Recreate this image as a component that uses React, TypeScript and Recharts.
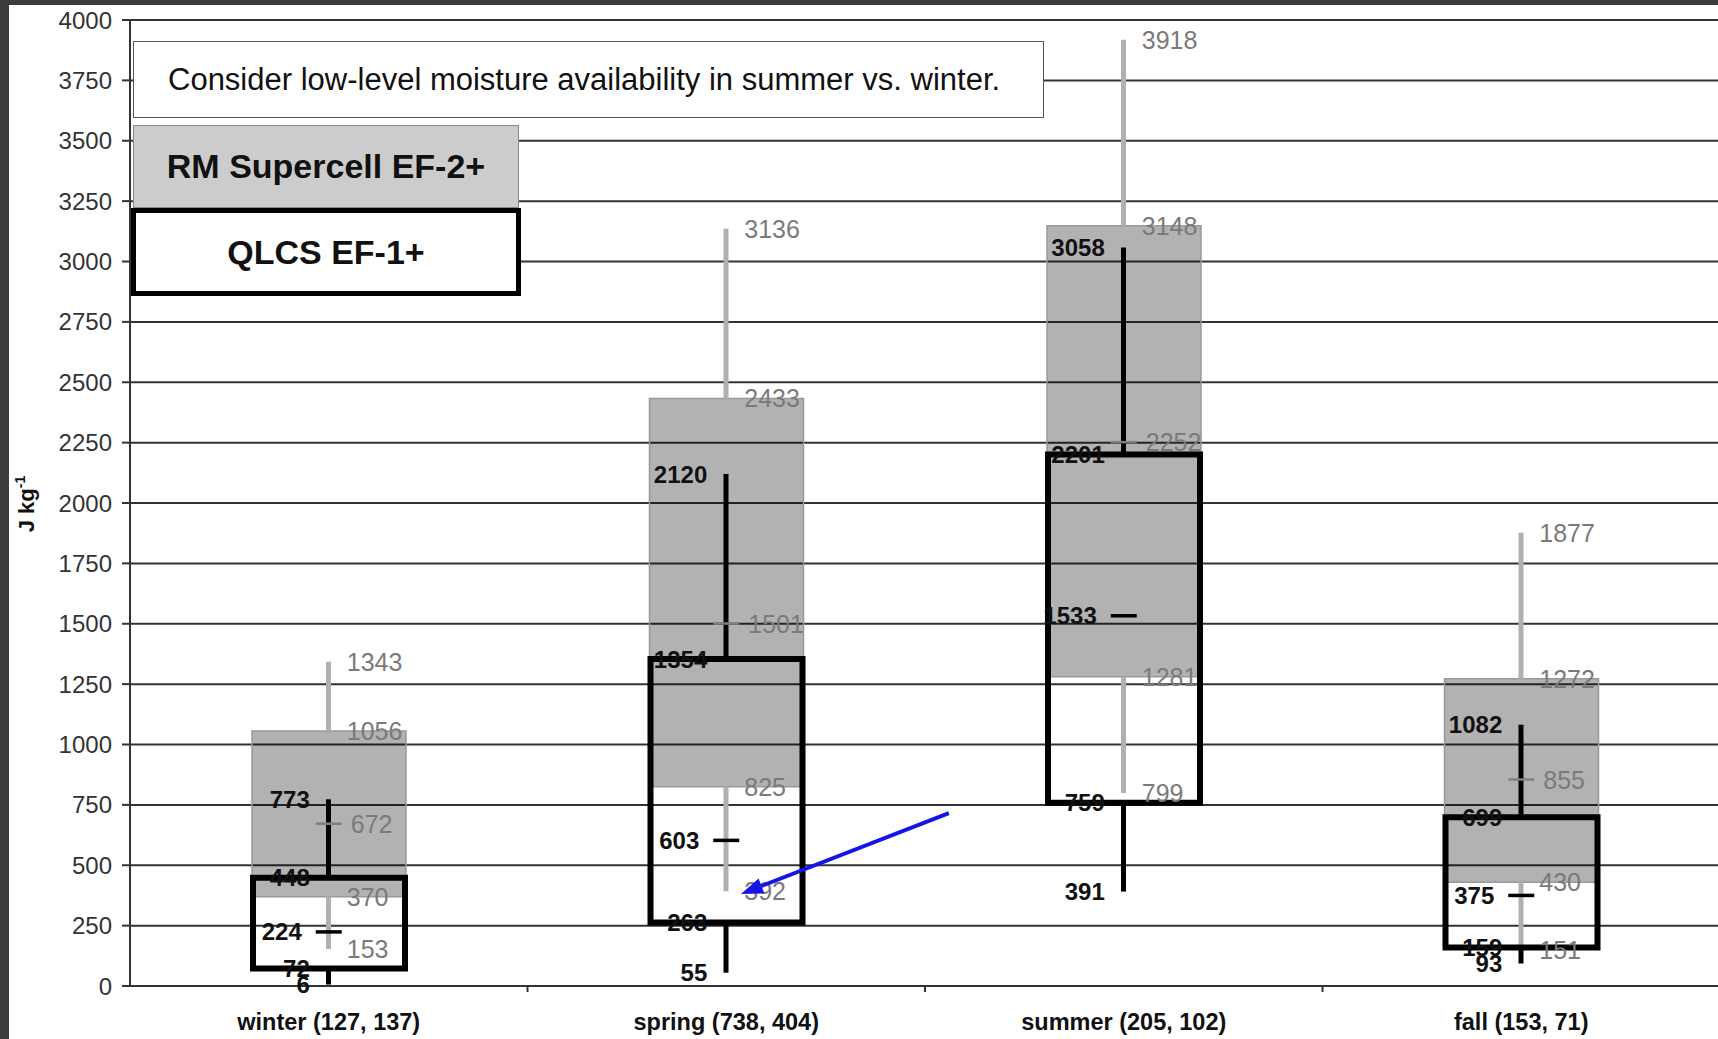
import React from "react";
import { ComposedChart, Bar, Line, XAxis, YAxis, CartesianGrid } from "recharts";

const seasons = ["winter (127, 137)", "spring (738, 404)", "summer (205, 102)", "fall (153, 71)"];

// RM supercell EF-2+ (gray boxes)
const rmMin = [153, 392, 799, 151];
const rmQ1 = [370, 825, 1281, 430];
const rmMed = [672, 1501, 2252, 855];
const rmQ3 = [1056, 2433, 3148, 1272];
const rmMax = [1343, 3136, 3918, 1877];

// QLCS EF-1+ (black outlined boxes)
const qMin = [6, 55, 391, 93];
const qQ1 = [72, 263, 759, 159];
const qMed = [224, 603, 1533, 375];
const qQ3 = [448, 1354, 2201, 699];
const qMax = [773, 2120, 3058, 1082];

const yTicks = [0, 250, 500, 750, 1000, 1250, 1500, 1750, 2000, 2250, 2500, 2750, 3000, 3250, 3500, 3750, 4000];

const data = seasons.map((name, i) => ({
  name,
  rmMin: rmMin[i],
  rmQ1: rmQ1[i],
  rmMed: rmMed[i],
  rmQ3: rmQ3[i],
  rmMax: rmMax[i],
  qMin: qMin[i],
  qQ1: qQ1[i],
  qMed: qMed[i],
  qQ3: qQ3[i],
  qMax: qMax[i],
}));

const W = 1730;
const H = 1039;
const PLOT_LEFT = 130;
const PLOT_RIGHT = 1720;
const PLOT_TOP = 20;
const PLOT_BOTTOM = 986;
const BAND = (PLOT_RIGHT - PLOT_LEFT) / seasons.length;

const yPx = (v: number) => PLOT_BOTTOM - (v / 4000) * (PLOT_BOTTOM - PLOT_TOP);
const xPx = (cat: number) => PLOT_LEFT + (cat + 0.5) * BAND;

const SANS = "'Liberation Sans', Arial, sans-serif";
const GRAY_TEXT = "#7a7a7a";

const grayLabel = (dx: number) => (p: any) => (
  <text key={p.index} x={p.cx + dx} y={p.cy} dominantBaseline="central" fill={GRAY_TEXT} fontSize={25} fontFamily={SANS}>
    {p.value}
  </text>
);

const blackLabel = (dx: number) => (p: any) => (
  <text key={p.index} x={p.cx - dx} y={p.cy} dominantBaseline="central" textAnchor="end" fill="#111" fontSize={24} fontWeight="bold" fontFamily={SANS}>
    {p.value}
  </text>
);

const medianTick = (color: string, w: number) => (p: any) => (
  <line key={p.index} x1={p.cx - 13} x2={p.cx + 13} y1={p.cy} y2={p.cy} stroke={color} strokeWidth={w} />
);

const SeasonTick = (props: any) => {
  const { x, payload, index } = props;
  return (
    <g>
      <text x={x} y={PLOT_BOTTOM + 36} textAnchor="middle" dominantBaseline="central" fontSize={23.5} fontWeight="bold" fontFamily={SANS} fill="#111">
        {payload.value}
      </text>
      {index > 0 && <line x1={x - BAND / 2} x2={x - BAND / 2} y1={PLOT_BOTTOM} y2={PLOT_BOTTOM + 6} stroke="#333" strokeWidth={2} />}
    </g>
  );
};

// arrow annotation, from between spring and summer to the spring RM minimum
const arrowFrom = { x: xPx(1.56), y: yPx(716) };
const arrowTo = { x: xPx(1.037), y: yPx(381) };

function Arrow() {
  const dx = arrowTo.x - arrowFrom.x;
  const dy = arrowTo.y - arrowFrom.y;
  const len = Math.sqrt(dx * dx + dy * dy);
  const ux = dx / len;
  const uy = dy / len;
  const bx = arrowTo.x - ux * 22;
  const by = arrowTo.y - uy * 22;
  const px = -uy * 8;
  const py = ux * 8;
  return (
    <svg width={W} height={H} style={{ position: "absolute", left: 0, top: 0, pointerEvents: "none" }}>
      <line x1={arrowFrom.x} y1={arrowFrom.y} x2={bx} y2={by} stroke="#1515e6" strokeWidth={4} />
      <polygon points={`${arrowTo.x},${arrowTo.y} ${bx + px},${by + py} ${bx - px},${by - py}`} fill="#1515e6" />
    </svg>
  );
}

export default function App() {
  return (
    <div style={{ position: "absolute", left: 0, top: 0, width: 1718, height: H, overflow: "hidden", background: "#3c3c3c" }}>
      <div style={{ position: "absolute", left: 9, top: 5, right: 0, bottom: 0, background: "#fff" }} />
      <div style={{ position: "absolute", left: 0, top: 0 }}>
        <ComposedChart width={W} height={H} data={data} margin={{ top: 20, right: 10, bottom: 10, left: 60 }}>
          <CartesianGrid vertical={false} stroke="#333" strokeWidth={2} />
          <XAxis
            xAxisId="main"
            dataKey="name"
            height={43}
            tickSize={0}
            tickMargin={0}
            tick={<SeasonTick />}
            axisLine={{ stroke: "#333", strokeWidth: 2 }}
            interval={0}
          />
          <XAxis xAxisId="b1" dataKey="name" hide />
          <XAxis xAxisId="b2" dataKey="name" hide />
          <XAxis xAxisId="b3" dataKey="name" hide />
          <XAxis xAxisId="b4" dataKey="name" hide />
          <XAxis xAxisId="b5" dataKey="name" hide />
          <XAxis xAxisId="b6" dataKey="name" hide />
          <YAxis
            width={70}
            domain={[0, 4000]}
            ticks={yTicks}
            interval={0}
            tickSize={8}
            tickMargin={10}
            axisLine={{ stroke: "#333", strokeWidth: 2 }}
            tickLine={{ stroke: "#333", strokeWidth: 2 }}
            tick={{ fill: "#333", fontSize: 24, fontFamily: SANS }}
          />
          {/* RM supercell: gray box and whiskers */}
          <Bar xAxisId="b1" dataKey={(d: any) => [d.rmQ1, d.rmQ3]} barSize={154} fill="#000" fillOpacity={0.3} stroke="#999" strokeWidth={1.5} isAnimationActive={false} />
          <Bar xAxisId="b2" dataKey={(d: any) => [d.rmQ3, d.rmMax]} barSize={5} fill="#b0b0b0" isAnimationActive={false} />
          <Bar xAxisId="b3" dataKey={(d: any) => [d.rmMin, d.rmQ1]} barSize={5} fill="#b0b0b0" isAnimationActive={false} />
          {/* QLCS: black whiskers and outlined box */}
          <Bar xAxisId="b4" dataKey={(d: any) => [d.qQ3, d.qMax]} barSize={5} fill="#000" isAnimationActive={false} />
          <Bar xAxisId="b5" dataKey={(d: any) => [d.qMin, d.qQ1]} barSize={5} fill="#000" isAnimationActive={false} />
          <Bar xAxisId="b6" dataKey={(d: any) => [d.qQ1, d.qQ3]} barSize={152} fill="none" stroke="#000" strokeWidth={6} isAnimationActive={false} />
          {/* medians */}
          <Line xAxisId="main" dataKey="rmMed" stroke="none" dot={medianTick("#7f7f7f", 2.5)} activeDot={false} isAnimationActive={false} />
          <Line xAxisId="main" dataKey="qMed" stroke="none" dot={medianTick("#000", 3.5)} activeDot={false} isAnimationActive={false} />
          {/* RM labels, right of centre */}
          <Line xAxisId="main" dataKey="rmMax" stroke="none" dot={grayLabel(18)} activeDot={false} isAnimationActive={false} />
          <Line xAxisId="main" dataKey="rmQ3" stroke="none" dot={grayLabel(18)} activeDot={false} isAnimationActive={false} />
          <Line xAxisId="main" dataKey="rmMed" stroke="none" dot={grayLabel(22)} activeDot={false} isAnimationActive={false} />
          <Line xAxisId="main" dataKey="rmQ1" stroke="none" dot={grayLabel(18)} activeDot={false} isAnimationActive={false} />
          <Line xAxisId="main" dataKey="rmMin" stroke="none" dot={grayLabel(18)} activeDot={false} isAnimationActive={false} />
          {/* QLCS labels, left of centre */}
          <Line xAxisId="main" dataKey="qMax" stroke="none" dot={blackLabel(19)} activeDot={false} isAnimationActive={false} />
          <Line xAxisId="main" dataKey="qQ3" stroke="none" dot={blackLabel(19)} activeDot={false} isAnimationActive={false} />
          <Line xAxisId="main" dataKey="qMed" stroke="none" dot={blackLabel(27)} activeDot={false} isAnimationActive={false} />
          <Line xAxisId="main" dataKey="qQ1" stroke="none" dot={blackLabel(19)} activeDot={false} isAnimationActive={false} />
          <Line xAxisId="main" dataKey="qMin" stroke="none" dot={blackLabel(19)} activeDot={false} isAnimationActive={false} />
        </ComposedChart>
      </div>
      <Arrow />
      {/* y axis title */}
      <svg width={60} height={H} style={{ position: "absolute", left: 0, top: 0 }}>
        <text transform="translate(34,504) rotate(-90)" textAnchor="middle" fontSize={22} fontWeight="bold" fontFamily={SANS} fill="#111">
          J kg<tspan dy={-9} fontSize={14}>-1</tspan>
        </text>
      </svg>
      {/* note and legend boxes */}
      <div
        style={{
          position: "absolute", left: 133, top: 41, width: 911, height: 77, boxSizing: "border-box",
          border: "1.5px solid #555", background: "#fff", fontFamily: SANS, fontSize: 31,
          display: "flex", alignItems: "center", paddingLeft: 34, color: "#111", whiteSpace: "nowrap",
        }}
      >
        Consider low-level moisture availability in summer vs. winter.
      </div>
      <div
        style={{
          position: "absolute", left: 133, top: 125, width: 386, height: 83, boxSizing: "border-box",
          border: "1.5px solid #888", background: "#cccccc", fontFamily: SANS, fontSize: 34, fontWeight: "bold",
          display: "flex", alignItems: "center", justifyContent: "center", color: "#111", whiteSpace: "nowrap",
        }}
      >
        RM Supercell EF-2+
      </div>
      <div
        style={{
          position: "absolute", left: 131, top: 208, width: 390, height: 88, boxSizing: "border-box",
          border: "5px solid #000", background: "#fff", fontFamily: SANS, fontSize: 34, fontWeight: "bold",
          display: "flex", alignItems: "center", justifyContent: "center", color: "#111", whiteSpace: "nowrap",
        }}
      >
        QLCS EF-1+
      </div>
    </div>
  );
}
